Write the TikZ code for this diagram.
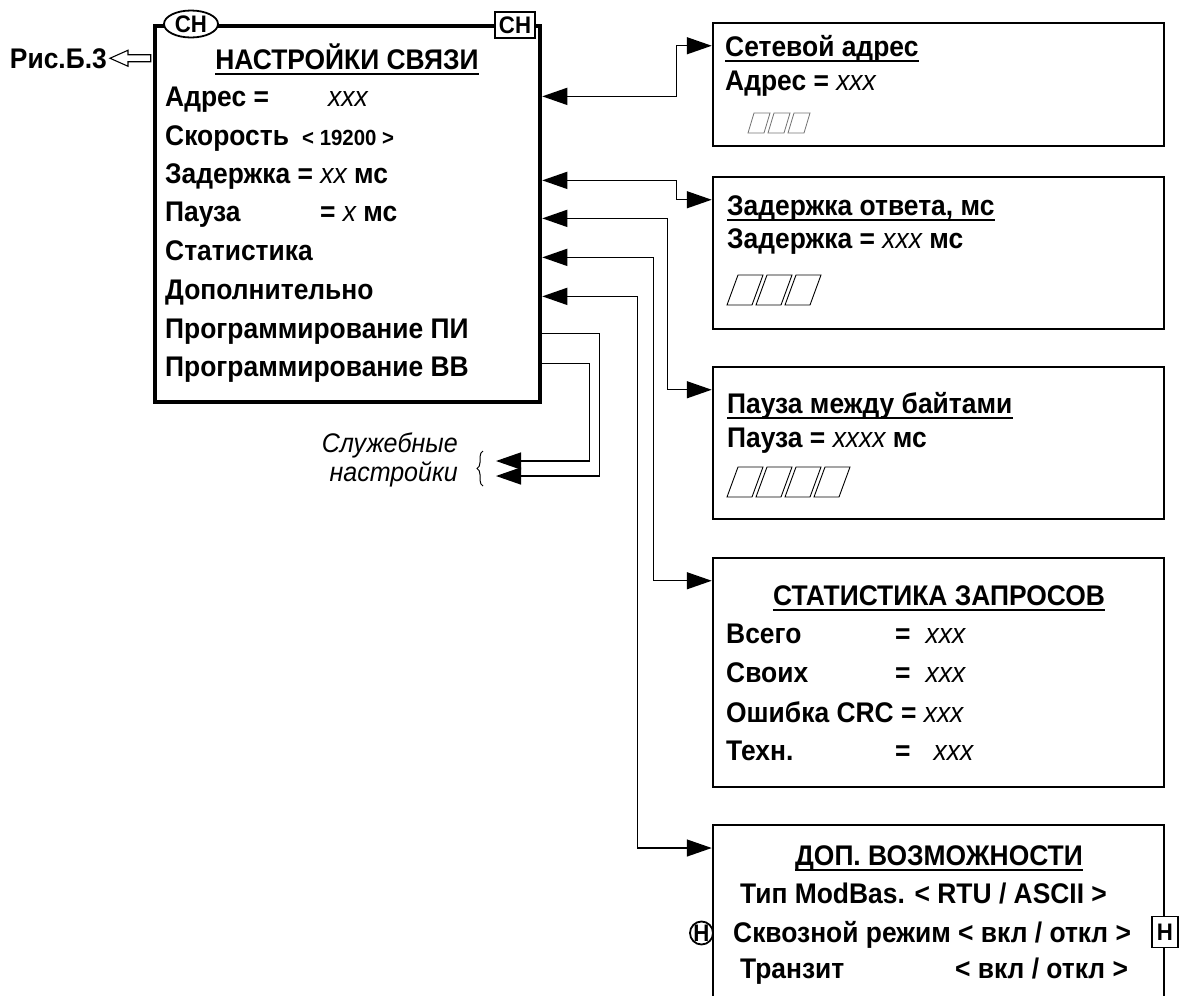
\documentclass[tikz,border=0pt]{standalone}
\usepackage{fontspec}
\setmainfont{Liberation Sans}[FakeStretch=0.93]
\usetikzlibrary{arrows.meta,calc,decorations.pathreplacing,shapes.geometric}
\newcommand\fmain{\fontsize{28.5}{32}\selectfont\bfseries}
\newcommand\fsmall{\fontsize{22}{24}\selectfont\bfseries}
\newcommand\flab{\fontsize{24}{26}\selectfont\bfseries}
\newcommand\fital{\fontsize{27}{29}\selectfont\mdseries\itshape}
\newcommand\vx[1]{{\mdseries\itshape #1}}
\begin{document}
\begin{tikzpicture}[x=1bp,y=-1bp,
  >={Triangle[length=25bp,width=17bp]},
  txt/.style={anchor=base west,inner sep=0pt,font=\fmain},
  ttlc/.style={anchor=base,inner sep=0pt,font=\fmain},
  bigbox/.style={draw,line width=4.5bp,minimum width=385bp,minimum height=376bp,inner sep=0pt},
  rbox/.style={draw,line width=2.5bp,minimum width=451bp,inner sep=0pt},
  conn/.style={line width=1.4bp},
  tag/.style={draw,line width=1.8bp,fill=white,font=\flab,inner sep=0pt},
  ul/.style={line width=1.6bp},
  cell/.style={line width=0.9bp},
  gcell/.style={line width=0.8bp,draw=black!55},
]
\useasboundingbox (0,0) rectangle (1187,996);

% main box
\node[bigbox] (main) at (347.5,214) {};
\node[tag,ellipse,minimum width=54bp,minimum height=27bp] (ch1) at (191,24) {СН};
\node[tag,rectangle,minimum width=40bp,minimum height=26bp] (ch2) at (515,25) {СН};
\node[ttlc] (mt) at (347,69) {НАСТРОЙКИ СВЯЗИ};
\draw[ul] ([yshift=-5bp]mt.base west) -- ([yshift=-5bp]mt.base east);

\node[txt] (r1) at (165,106) {\makebox[163bp][l]{Адрес =}\vx{xxx}};
\node[txt] (r2) at (165,145) {\makebox[137bp][l]{Скорость}{\fsmall< 19200 >}};
\node[txt] (r3) at (165,183) {Задержка = \vx{xx} мс};
\node[txt] (r4) at (165,221) {\makebox[155bp][l]{Пауза}= \vx{x} мс};
\node[txt] (r5) at (165,260) {Статистика};
\node[txt] (r6) at (165,299) {Дополнительно};
\node[txt] (r7) at (165,338) {Программирование ПИ};
\node[txt] (r8) at (165,376) {Программирование ВВ};

% Рис.Б.3
\node[anchor=base east,inner sep=0pt,font=\fmain] (ris) at (107,68) {Рис.Б.3};
\coordinate (ra) at ($(ris.east)+(3,0)$);
\draw[line width=1.1bp] (ra) -- ++(18,-8) -- ++(0,4.5) -- ($(main.west |- ra)+(-2,-3.5)$)
  -- ($(main.west |- ra)+(-2,3.5)$) -- ($(ra)+(18,3.5)$) -- ++(0,4.5) -- cycle;

% right boxes
\node[rbox,minimum height=123bp] (b1) at (938.5,84.5) {};
\node[rbox,minimum height=152bp] (b2) at (938.5,253) {};
\node[rbox,minimum height=152bp] (b3) at (938.5,443) {};
\node[rbox,minimum height=229bp] (b4) at (938.5,672.5) {};
\node[minimum width=451bp,minimum height=200bp,inner sep=0pt,outer sep=0pt] (b5) at (938.5,925) {};
\draw[line width=2.5bp] (b5.south west) -- (b5.north west) -- (b5.north east) -- (b5.south east);

% box 1
\node[txt] (t1) at (725,56) {Сетевой адрес};
\draw[ul] ([yshift=-5bp]t1.base west) -- ([yshift=-5bp]t1.base east);
\node[txt] (t1b) at (725,90) {Адрес = \vx{xxx}};
\foreach \i in {0,1,2}
  \draw[gcell] (748+20*\i,133) -- (764+20*\i,133) -- (770+20*\i,113) -- (754+20*\i,113) -- cycle;

% box 2
\node[txt] (t2) at (727,215) {Задержка ответа, мс};
\draw[ul] ([yshift=-5bp]t2.base west) -- ([yshift=-5bp]t2.base east);
\node[txt] (t2b) at (727,248) {Задержка = \vx{xxx} мс};
\foreach \i in {0,1,2}
  \draw[cell] (727+29*\i,305) -- (752+29*\i,305) -- (763+29*\i,275) -- (738+29*\i,275) -- cycle;

% box 3
\node[txt] (t3) at (727,413) {Пауза между байтами};
\draw[ul] ([yshift=-5bp]t3.base west) -- ([yshift=-5bp]t3.base east);
\node[txt] (t3b) at (727,447) {Пауза = \vx{xxxx} мс};
\foreach \i in {0,1,2,3}
  \draw[cell] (727+29*\i,497) -- (752+29*\i,497) -- (763+29*\i,467) -- (738+29*\i,467) -- cycle;

% box 4
\node[ttlc] (t4) at (939,605) {СТАТИСТИКА ЗАПРОСОВ};
\draw[ul] ([yshift=-5bp]t4.base west) -- ([yshift=-5bp]t4.base east);
\node[txt] (s1) at (726,643) {\makebox[169bp][l]{Всего}=\hspace{15bp}\vx{xxx}};
\node[txt] (s2) at (726,682) {\makebox[169bp][l]{Своих}=\hspace{15bp}\vx{xxx}};
\node[txt] (s3) at (726,722) {Ошибка CRC = \vx{xxx}};
\node[txt] (s4) at (726,760) {\makebox[169bp][l]{Техн.}=\hspace{23bp}\vx{xxx}};

% box 5
\node[ttlc] (t5) at (939,865) {ДОП. ВОЗМОЖНОСТИ};
\draw[ul] ([yshift=-5bp]t5.base west) -- ([yshift=-5bp]t5.base east);
\node[txt] (d1) at (740,903) {Тип ModBas. < RTU / ASCII >};
\node[txt] (d2) at (733,942) {Сквозной режим < вкл / откл >};
\node[txt] (d3) at (740,978) {\makebox[215bp][l]{Транзит}< вкл / откл >};
\node[tag,fill=none,circle,minimum size=23bp] (h1) at (701.5,933) {Н};
\node[tag,minimum width=26bp,minimum height=31bp] (h2) at (1165,932) {Н};

% connectors
\coordinate (e1) at ($(b1.north west)+(0,24)$);
\coordinate (e2) at ($(b2.north west)+(0,24)$);
\coordinate (e3) at ($(b3.north west)+(0,24)$);
\coordinate (e4) at ($(b4.north west)+(0,24)$);
\coordinate (e5) at ($(b5.north west)+(-1.25,23)$);
\draw[conn,<->] ($(main.east |- r1.mid)+(0,-7)$) -| ($(e1)+(-35,0)$) -- (e1);
\draw[conn,<->] (main.east |- r3.mid) -| ($(e2)+(-35,0)$) -- (e2);
\draw[conn,<->] (main.east |- r4.mid) -| ($(e3)+(-44,0)$) -- (e3);
\draw[conn,<->] (main.east |- r5.mid) -| ($(e4)+(-58,0)$) -- (e4);
\draw[conn,<->] (main.east |- r6.mid) -| ($(e5)+(-74,0)$) -- (e5);

% service settings
\node[font=\fital,align=right,anchor=east,inner sep=0pt] (svc) at (458,460) {Служебные\\настройки};
\draw[line width=1bp,decorate,decoration={brace,amplitude=6bp}] (483,486) -- (483,451);
\coordinate (sv1) at (496,461);
\coordinate (sv2) at (496,476);
\draw[conn,->] ($(main.east |- r7.mid)+(0,-2)$) -- ++(57,0) |- (sv2);
\draw[conn,->] ($(main.east |- r8.mid)+(0,-10)$) -- ++(47,0) |- (sv1);
\end{tikzpicture}
\end{document}
